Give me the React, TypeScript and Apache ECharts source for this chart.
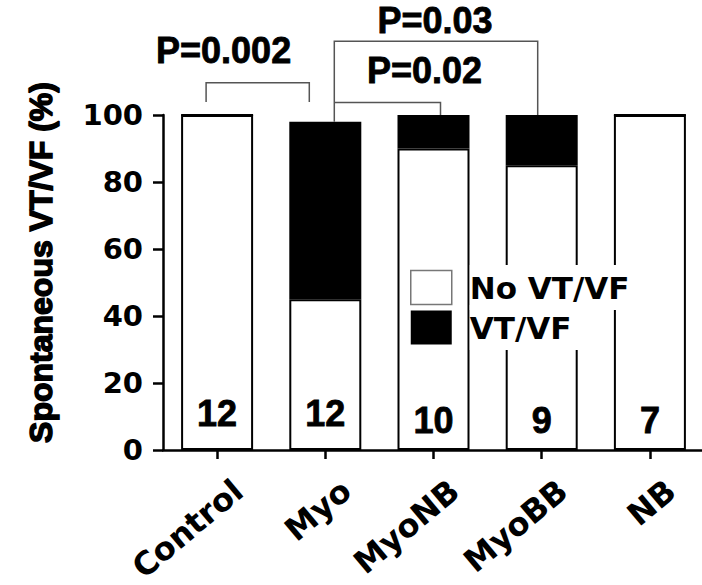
import React, { useEffect, useRef } from 'react';
import * as echarts from 'echarts';

// ---------- data ----------
const categories = ['Control', 'Myo', 'MyoNB', 'MyoBB', 'NB'];
const noVtVf = [100, 45, 90, 85, 100];
const vtVf = [0, 53, 10, 15, 0];
const nCounts = ['12', '12', '10', '9', '7'];
const yMin = 0;
const yMax = 100;
const yStep = 20;
const seriesNames = ['No VT/VF', 'VT/VF'];
const pTexts = ['P=0.002', 'P=0.03', 'P=0.02'];

// ---------- annotation layout (category index + pixel nudge, y in axis units) ----------
const bracketLayout = [
  { l: 0, ldx: -11, r: 1, rdx: -16, top: 109.6, lEnd: 103.9, rEnd: 103.9, t: 0, tdx: 6.5, ty: 119.4 },
  { l: 1, ldx: 9, r: 3, rdx: -4, top: 122, lEnd: 98, rEnd: 100, t: 2, tdx: 1.5, ty: 128.2 },
  { l: 1, ldx: 9, r: 2, rdx: 7, top: 103.7, lEnd: 103.7, rEnd: 100, t: 2, tdx: -9, ty: 113.4 },
];
const countDistance = [19, 19, 12, 12, 12];

const WIDE = 'DejaVu Sans';
const ARIAL = 'Liberation Sans, Arial, sans-serif';

export default function App() {
  const ref = useRef<HTMLDivElement>(null);
  useEffect(() => {
    const chart = echarts.init(ref.current!, null, { renderer: 'svg' });
    const option: any = {
      animation: false,
      backgroundColor: '#fff',
      grid: { left: 163, right: -2, top: 115, bottom: 135, containLabel: false, outerBoundsMode: 'none' },
      xAxis: {
        type: 'category',
        data: categories,
        axisLine: { show: true, lineStyle: { color: '#000', width: 2.5 } },
        axisTick: { show: true, alignWithLabel: true, length: 9, lineStyle: { color: '#000', width: 2.5 } },
        axisLabel: {
          interval: 0,
          rotate: 40,
          align: 'right',
          verticalAlign: 'top',
          margin: 11,
          padding: [16, 0, 0, 0],
          lineHeight: 34,
          color: '#000',
          fontFamily: WIDE,
          fontWeight: 'bold',
          fontSize: 32,
        },
        splitLine: { show: false },
      },
      yAxis: {
        type: 'value',
        min: yMin,
        max: yMax,
        interval: yStep,
        name: 'Spontaneous VT/VF (%)',
        nameLocation: 'middle',
        nameRotate: 90,
        nameGap: 106,
        nameTextStyle: {
          color: '#000',
          fontFamily: ARIAL,
          fontWeight: 'bold',
          fontSize: 32,
          textBorderColor: '#000',
          textBorderWidth: 1.5,
          padding: [0, 0, 0, 40],
        },
        axisLine: { show: true, lineStyle: { color: '#000', width: 2.5 } },
        axisTick: { show: true, length: 10, lineStyle: { color: '#000', width: 2.5 } },
        axisLabel: { color: '#000', fontFamily: WIDE, fontWeight: 'bold', fontSize: 29, margin: 20 },
        splitLine: { show: false },
      },
      legend: {
        orient: 'vertical',
        left: 410,
        top: 265,
        itemWidth: 41,
        itemHeight: 34,
        itemGap: -5,
        padding: 0,
        icon: 'rect',
        selectedMode: false,
        data: [
          { name: seriesNames[0], itemStyle: { color: '#fff', borderColor: '#777', borderWidth: 1.5 } },
          { name: seriesNames[1], itemStyle: { color: '#000', borderWidth: 0 } },
        ],
        formatter: (name: string) => `{s| }{t|${name}}`,
        textStyle: {
          rich: {
            s: { width: 13, fontSize: 31, lineHeight: 34 },
            t: {
              backgroundColor: '#fff',
              padding: [7, 18, 7, 0],
              fontFamily: WIDE,
              fontWeight: 'bold',
              fontSize: 31,
              lineHeight: 34,
              color: '#000',
            },
          },
        },
      },
      series: [
        {
          name: seriesNames[0],
          type: 'bar',
          stack: 'total',
          barWidth: 72,
          itemStyle: { color: '#fff', borderColor: '#000', borderWidth: 2 },
          label: {
            show: true,
            position: 'insideBottom',
            formatter: (p: any) => nCounts[p.dataIndex],
            color: '#000',
            fontFamily: ARIAL,
            fontWeight: 'bold',
            fontSize: 36,
            textBorderColor: '#000',
            textBorderWidth: 0.8,
          },
          data: noVtVf.map((v, i) => ({ value: v, label: { distance: countDistance[i] } })),
        },
        {
          name: seriesNames[1],
          type: 'bar',
          stack: 'total',
          barWidth: 72,
          itemStyle: { color: '#000', borderColor: '#000', borderWidth: 2 },
          data: vtVf,
        },
      ],
    };
    chart.setOption(option);

    const xp = (i: number) => chart.convertToPixel({ xAxisIndex: 0 }, categories[i]) as number;
    const yp = (v: number) => chart.convertToPixel({ yAxisIndex: 0 }, v) as number;
    const graphics: any[] = [];
    bracketLayout.forEach((b, k) => {
      const lx = xp(b.l) + b.ldx;
      const rx = xp(b.r) + b.rdx;
      graphics.push({
        type: 'polyline',
        silent: true,
        shape: { points: [[lx, yp(b.lEnd)], [lx, yp(b.top)], [rx, yp(b.top)], [rx, yp(b.rEnd)]] },
        style: { stroke: '#555', lineWidth: 1.5, fill: 'none' },
        z: 10,
      });
      graphics.push({
        type: 'text',
        silent: true,
        x: xp(b.t) + b.tdx,
        y: yp(b.ty),
        style: {
          text: pTexts[k],
          fontFamily: ARIAL,
          fontWeight: 'bold',
          fontSize: 36,
          fill: '#000',
          stroke: '#000',
          lineWidth: 0.8,
          align: 'center',
          verticalAlign: 'middle',
        },
        z: 10,
      });
    });
    chart.setOption({ graphic: graphics });
    return () => chart.dispose();
  }, []);
  return <div ref={ref} style={{ position: 'fixed', left: 0, top: 0, width: 702, height: 585 }} />;
}
